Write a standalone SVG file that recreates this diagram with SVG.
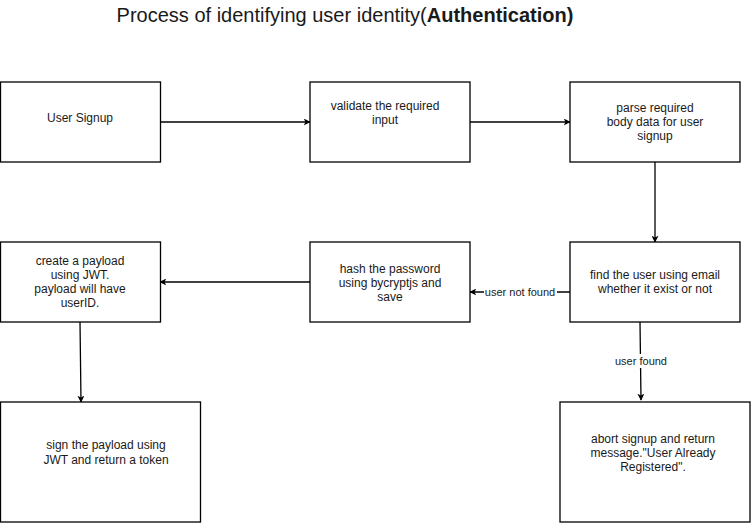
<svg xmlns="http://www.w3.org/2000/svg" width="751" height="523" viewBox="0 0 751 523">
<style>
.box{fill:#fff;stroke:#000;stroke-width:1.3}
.t{font-family:"Liberation Sans",Arial,sans-serif;font-size:12px;fill:#1a1a1a;text-anchor:middle;dominant-baseline:central}
.l{font-family:"Liberation Sans",Arial,sans-serif;font-size:11px;fill:#1a1a1a;text-anchor:middle;dominant-baseline:central}
.c{fill:none;stroke:#000;stroke-width:1.3}
</style>
<defs>
<marker id="a" viewBox="0 0 10 10" refX="9" refY="5" markerWidth="7" markerHeight="7" markerUnits="userSpaceOnUse" orient="auto">
<path d="M0,0 L10,5 L0,10 L2.5,5 Z" fill="#000"/>
</marker>
</defs>
<rect width="751" height="523" fill="#fff"/>
<text x="345" y="15" font-family="'Liberation Sans',Arial,sans-serif" font-size="20" fill="#1a1a1a" text-anchor="middle" dominant-baseline="central">Process of identifying user identity(<tspan font-weight="bold">Authentication)</tspan></text>

<g id="connectors">
<path class="c" d="M160,122 L310,122" marker-end="url(#a)"/>
<path class="c" d="M470,122 L570,122" marker-end="url(#a)"/>
<path class="c" d="M655,162 L655,242" marker-end="url(#a)"/>
<path class="c" d="M570,292 L470,292" marker-end="url(#a)"/>
<path class="c" d="M310,282 L160,282" marker-end="url(#a)"/>
<path class="c" d="M80,322 L81,402" marker-end="url(#a)"/>
<path class="c" d="M640,322 L641,400" marker-end="url(#a)"/>
<rect x="484" y="285" width="73" height="14" fill="#fff"/>
<text class="l" x="520" y="292">user not found</text>
<rect x="613" y="354" width="56" height="14" fill="#fff"/>
<text class="l" x="641" y="361">user found</text>
</g>

<g id="signup">
<rect class="box" x="0.5" y="82" width="160" height="80"/>
<text class="t" x="80" y="118">User Signup</text>
</g>
<g id="validate">
<rect class="box" x="310" y="82" width="160" height="80"/>
<text class="t" x="385" y="106">validate the required</text>
<text class="t" x="385" y="120">input</text>
</g>
<g id="parse">
<rect class="box" x="570" y="82" width="170" height="80"/>
<text class="t" x="655" y="108">parse required</text>
<text class="t" x="655" y="122">body data for user</text>
<text class="t" x="655" y="136">signup</text>
</g>
<g id="find">
<rect class="box" x="570" y="242" width="170" height="80"/>
<text class="t" x="655" y="275">find the user using email</text>
<text class="t" x="655" y="289">whether it exist or not</text>
</g>
<g id="hash">
<rect class="box" x="310" y="242" width="160" height="80"/>
<text class="t" x="390" y="269">hash the password</text>
<text class="t" x="390" y="283">using bycryptjs and</text>
<text class="t" x="390" y="297">save</text>
</g>
<g id="payload">
<rect class="box" x="0.5" y="242" width="160" height="80"/>
<text class="t" x="80" y="261">create a payload</text>
<text class="t" x="80" y="275">using JWT.</text>
<text class="t" x="80" y="289">payload will have</text>
<text class="t" x="80" y="303">userID.</text>
</g>
<g id="sign">
<rect class="box" x="0.5" y="402" width="200" height="120"/>
<text class="t" x="106" y="445">sign the payload using</text>
<text class="t" x="106" y="460">JWT and return a token</text>
</g>
<g id="abort">
<rect class="box" x="560" y="402" width="190" height="120"/>
<text class="t" x="653" y="439">abort signup and return</text>
<text class="t" x="653" y="453">message."User Already</text>
<text class="t" x="653" y="467">Registered".</text>
</g>
</svg>
